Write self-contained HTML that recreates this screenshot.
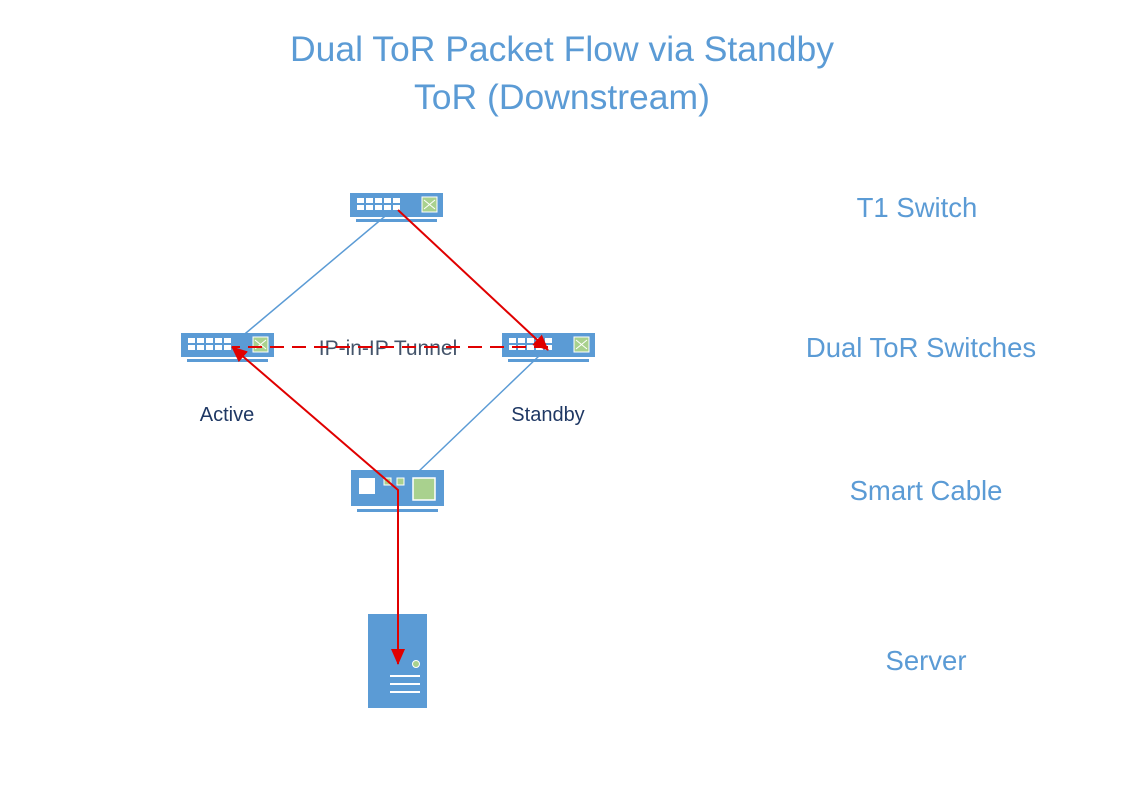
<!DOCTYPE html>
<html><head><style>
body{margin:0;background:#fff;width:1123px;height:794px;overflow:hidden;font-family:"Liberation Sans",sans-serif}
svg text{font-family:"Liberation Sans",sans-serif}
</style></head><body>
<svg width="1123" height="794" xmlns="http://www.w3.org/2000/svg">
<defs>
<marker id="arb" markerWidth="16" markerHeight="14" refX="15" refY="7" orient="auto" markerUnits="userSpaceOnUse">
<path d="M0,0 L16,7 L0,14 z" fill="#e00000"/></marker>
<g id="sw">
<rect x="0" y="0" width="93" height="24" fill="#5b9bd5"/>
<rect x="6" y="26" width="81" height="3" fill="#5b9bd5"/>
<g fill="#fff">
<rect x="7" y="5" width="7" height="5"/><rect x="16" y="5" width="7" height="5"/><rect x="25" y="5" width="7" height="5"/><rect x="34" y="5" width="7" height="5"/><rect x="43" y="5" width="7" height="5"/>
<rect x="7" y="12" width="7" height="5"/><rect x="16" y="12" width="7" height="5"/><rect x="25" y="12" width="7" height="5"/><rect x="34" y="12" width="7" height="5"/><rect x="43" y="12" width="7" height="5"/>
</g>
<rect x="72" y="4" width="15" height="15" fill="#a9d18e" stroke="#fff"/>
<path d="M74,7 L85,16 M74,16 L85,7" stroke="#fff" stroke-width="1"/>
</g>
</defs>
<text x="562" y="61" font-size="35.5" fill="#5b9bd5" text-anchor="middle">Dual ToR Packet Flow via Standby</text>
<text x="562" y="109" font-size="35.5" fill="#5b9bd5" text-anchor="middle">ToR (Downstream)</text>
<g font-size="27.5" fill="#5b9bd5" text-anchor="middle">
<text x="917" y="217">T1 Switch</text>
<text x="921" y="357">Dual ToR Switches</text>
<text x="926" y="500">Smart Cable</text>
<text x="926" y="670">Server</text>
</g>
<g font-size="20" fill="#1f3864" text-anchor="middle">
<text x="227" y="421">Active</text>
<text x="548" y="421">Standby</text>
</g>
<line x1="390" y1="212" x2="240" y2="338" stroke="#5b9bd5" stroke-width="1.5"/>
<line x1="540" y1="355" x2="418" y2="472" stroke="#5b9bd5" stroke-width="1.5"/>
<use href="#sw" x="350" y="193"/>
<use href="#sw" x="181" y="333"/>
<use href="#sw" x="502" y="333"/>
<rect x="351" y="470" width="93" height="36" fill="#5b9bd5"/>
<rect x="357" y="509" width="81" height="3" fill="#5b9bd5"/>
<rect x="359" y="478" width="16" height="16" fill="#fff"/>
<rect x="384" y="478" width="7" height="7" fill="#a9d18e" stroke="#fff"/>
<rect x="397" y="478" width="7" height="7" fill="#a9d18e" stroke="#fff"/>
<rect x="413" y="478" width="22" height="22" fill="#a9d18e" stroke="#fff" stroke-width="1.5"/>
<rect x="368" y="614" width="59" height="94" fill="#5b9bd5"/>
<circle cx="416" cy="664" r="3.5" fill="#a9d18e" stroke="#fff"/>
<g stroke="#fff" stroke-width="2"><line x1="390" y1="676" x2="420" y2="676"/><line x1="390" y1="684" x2="420" y2="684"/><line x1="390" y1="692" x2="420" y2="692"/></g>
<line x1="398" y1="210" x2="548" y2="350" stroke="#e00000" stroke-width="2" marker-end="url(#arb)"/>
<line x1="548" y1="347" x2="232" y2="347" stroke="#e00000" stroke-width="2" stroke-dasharray="14,8"/>
<polyline points="398,664 398,490 232,347" fill="none" stroke="#e00000" stroke-width="2" marker-end="url(#arb)"/>
<line x1="398" y1="500" x2="398" y2="664" stroke="#e00000" stroke-width="2" marker-end="url(#arb)"/>
<text x="388" y="355" font-size="21" fill="#44546a" text-anchor="middle">IP-in-IP Tunnel</text>
<line x1="318" y1="347" x2="460" y2="347" stroke="#e00000" stroke-width="2" stroke-dasharray="14,8" stroke-dashoffset="4"/>
</svg>
</body></html>
